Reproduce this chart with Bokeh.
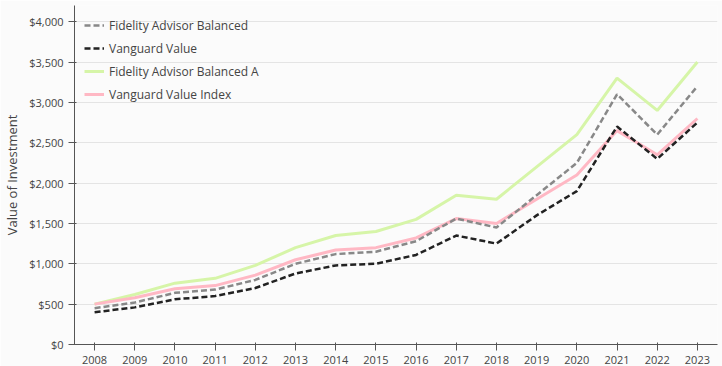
from bokeh.plotting import figure
from bokeh.models import NumeralTickFormatter, Legend, FixedTicker
from bokeh.embed import file_html
from bokeh.resources import INLINE

years = list(range(2008, 2024))
green_vals = [500, 620, 760, 820, 980, 1200, 1350, 1400, 1550, 1850, 1800, 2200, 2600, 3300, 2900, 3500]
pink_vals = [500, 580, 690, 730, 860, 1050, 1170, 1200, 1320, 1560, 1500, 1800, 2100, 2650, 2350, 2800]
grey_vals = [450, 520, 640, 680, 800, 1000, 1120, 1150, 1280, 1560, 1450, 1850, 2250, 3100, 2600, 3200]
black_vals = [400, 460, 560, 600, 700, 880, 980, 1000, 1110, 1350, 1250, 1600, 1900, 2700, 2300, 2750]
y_ticks = [0, 500, 1000, 1500, 2000, 2500, 3000, 3500, 4000]

p = figure(width=722, height=366, output_backend="svg", toolbar_location=None,
           y_range=(0, 4200), x_range=(2007.5, 2023.5))
p.background_fill_color = "#fbfbfb"
p.border_fill_color = "#fbfbfb"
p.outline_line_color = None
p.xgrid.grid_line_color = None
p.ygrid.grid_line_color = "#e4e4e4"
p.yaxis.ticker = FixedTicker(ticks=y_ticks)
p.yaxis.formatter = NumeralTickFormatter(format="$0,0")
p.xaxis.ticker = FixedTicker(ticks=years)
p.yaxis.axis_label = "Value of Investment"
for ax in (p.xaxis[0], p.yaxis[0]):
    ax.major_label_text_font = "Open Sans"
    ax.major_label_text_font_size = "11px"
    ax.axis_label_text_font = "Open Sans"
    ax.axis_label_text_font_style = "normal"
    ax.axis_line_color = "#555555"
    ax.major_tick_line_color = "#555555"
    ax.minor_tick_line_color = None

r1 = p.line(years, green_vals, line_color="#d6f5a8", line_width=3)
r2 = p.line(years, pink_vals, line_color="#ffb8c4", line_width=3)
r3 = p.line(years, grey_vals, line_color="#888888", line_width=2.5, line_dash="6 3")
r4 = p.line(years, black_vals, line_color="#222222", line_width=2.5, line_dash="6 3")

legend = Legend(items=[("Fidelity Advisor Balanced", [r3]),
                       ("Vanguard Value", [r4]),
                       ("Fidelity Advisor Balanced A", [r1]),
                       ("Vanguard Value Index", [r2])],
                location="top_left")
legend.label_text_font = "Open Sans"
legend.label_text_font_size = "12px"
legend.background_fill_alpha = 0
legend.border_line_color = None
p.add_layout(legend)

open("out.html", "w").write(file_html(p, INLINE))
